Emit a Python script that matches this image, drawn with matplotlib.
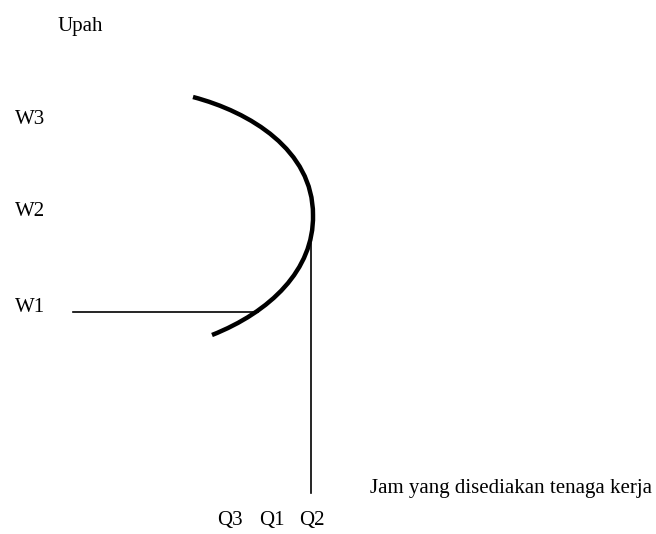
import matplotlib
matplotlib.use("Agg")
import matplotlib.pyplot as plt
from matplotlib.path import Path
from matplotlib.patches import PathPatch

# Backward-bending labour supply curve (coordinates in picture units, y grows downward)
supply_curve = [(193, 97), (250, 112), (313, 150), (313, 215),
                (314, 270), (270, 312), (212, 335)]
curve_codes = [Path.MOVETO, Path.CURVE4, Path.CURVE4, Path.CURVE4,
               Path.CURVE4, Path.CURVE4, Path.CURVE4]

wage_labels = ["W3", "W2", "W1"]
wage_label_y = [119, 212, 307]
qty_labels = ["Q3", "Q1", "Q2"]
qty_label_x = [230, 272, 312]

w1_line_x = [73, 258]
w1_line_y = [312, 312]
q2_line_x = [311, 311]
q2_line_y = [243, 493]

y_title = "Upah"
x_title = "Jam yang disediakan tenaga kerja"

plt.rcParams["font.family"] = ["Liberation Serif", "DejaVu Serif"]

fig = plt.figure(figsize=(6.56, 5.34), dpi=100)
ax = fig.add_axes([0, 0, 1, 1])
ax.set_xlim(0, 656)
ax.set_ylim(534, 0)
ax.axis("off")

ax.add_patch(PathPatch(Path(supply_curve, curve_codes), fill=False, lw=3.2,
                       ec="black", capstyle="butt"))
ax.plot(w1_line_x, w1_line_y, color="black", lw=1.2)
ax.plot(q2_line_x, q2_line_y, color="black", lw=1.2)

fs = 15
ax.text(57, 27, y_title, fontsize=fs, ha="left", va="center")
for lab, y in zip(wage_labels, wage_label_y):
    ax.text(15, y, lab, fontsize=fs, ha="left", va="center")
for lab, x in zip(qty_labels, qty_label_x):
    ax.text(x, 521, lab, fontsize=fs, ha="center", va="center")
ax.text(370, 488, x_title, fontsize=fs, ha="left", va="center")

fig.savefig("out.png", dpi=100)
